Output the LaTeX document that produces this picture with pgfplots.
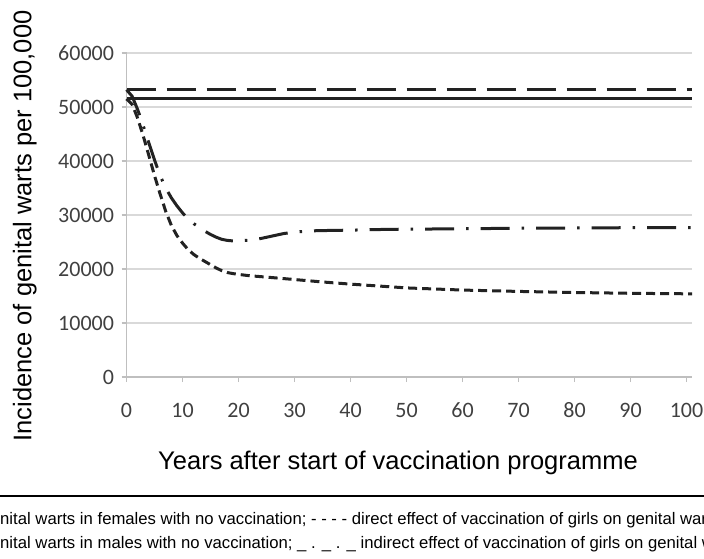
\documentclass[border=0pt]{standalone}
\usepackage{pgfplots}
\pgfplotsset{compat=1.18}
\usepackage{fontspec}
\setmainfont{Liberation Sans}
\newfontfamily\tickfont{Carlito}
\definecolor{gridc}{HTML}{D9D9D9}
\definecolor{axc}{HTML}{BFBFBF}
\definecolor{linec}{HTML}{222222}
\definecolor{tickc}{HTML}{404040}
\begin{document}
\begin{tikzpicture}[x=1pt,y=1pt]
\useasboundingbox (0,0) rectangle (704,558);
\clip (0,0) rectangle (704,558);
\begin{axis}[
  at={(126.5pt,181pt)}, anchor=south west, scale only axis,
  width=565.6pt, height=324pt,
  xmin=0, xmax=101, ymin=0, ymax=60000,
  xtick={0,10,...,100}, ytick={0,10000,...,60000},
  axis x line*=bottom, axis y line*=left,
  ymajorgrids, xmajorgrids=false,
  grid style={draw=gridc, line width=1.6pt},
  axis line style={draw=axc, line width=1.3pt},
  tick style={draw=axc, line width=1.3pt},
  major tick length=5pt, tick align=outside,
  scaled y ticks=false,
  /pgf/number format/assume math mode=true,
  /pgf/number format/1000 sep={},
  tick label style={font=\tickfont\fontsize{22}{22}\selectfont, text=tickc},
  xticklabel style={anchor=base, yshift=-35pt},
  yticklabel style={xshift=-4pt},
  xlabel={Years after start of vaccination programme},
  ylabel={Incidence of genital warts per 100,000},
  xlabel style={font=\fontsize{25.5}{26}\selectfont, at={(axis description cs:0.48,-0.287)}, anchor=base},
  ylabel style={font=\fontsize{25.5}{26}\selectfont, at={(axis description cs:-0.168,0.466)}, anchor=base},
  clip=false,
]
% males, no vaccination (long dashes)
\addplot[color=linec, line width=3pt, dash pattern=on 29pt off 11pt] coordinates {(0,53200) (101,53200)};
% females, no vaccination (solid)
\addplot[color=linec, line width=3pt] coordinates {(0,51500) (101,51500)};
% direct effect on females (short dashes)
\addplot[color=linec, line width=3pt, dash pattern=on 9pt off 5pt] coordinates {
(0,51500) (1,50500) (2,47900) (3,44600) (4,41000) (5,37300) (6,33900) (7,30700)
(8,28100) (9,26200) (10,24800) (11,23600) (12,22700) (13,22000) (14,21400)
(15,20800) (16,20200) (17,19700) (18,19350) (19,19150) (20,19000) (22,18750)
(25,18500) (30,18050) (35,17600) (40,17200) (45,16850) (50,16500) (60,16100)
(70,15850) (80,15650) (90,15500) (101,15400)};
% indirect effect on males (dash-dot)
\addplot[color=linec, line width=3pt, dash pattern=on 29pt off 12pt on 2.5pt off 12pt] coordinates {
(0,53200) (1,52000) (2,49500) (3,46500) (4,43300) (5,40200) (6,37300) (7,35000)
(8,33200) (9,31700) (10,30400) (11,29300) (12,28400) (13,27700) (14,27000)
(15,26400) (16,25900) (17,25500) (18,25300) (19,25200) (20,25200) (22,25350)
(24,25650) (26,26100) (28,26550) (30,26850) (34,27100) (40,27200) (47,27350)
(60,27450) (70,27550) (80,27600) (90,27650) (101,27650)};
\end{axis}
\draw[line width=1.3pt] (0,62) -- (704,62);
\node[anchor=base west, inner sep=0, font=\fontsize{16.7}{16.7}\selectfont] at (0,34)
  {\llap{ge}nital warts in females with no vaccination; - - - - direct effect of vaccination of girls on genital warts in females};
\node[anchor=base west, inner sep=0, font=\fontsize{16.7}{16.7}\selectfont] at (0,10)
  {\llap{ge}nital warts in males with no vaccination; \_ . \_ . \_ indirect effect of vaccination of girls on genital warts in males};
\end{tikzpicture}
\end{document}
